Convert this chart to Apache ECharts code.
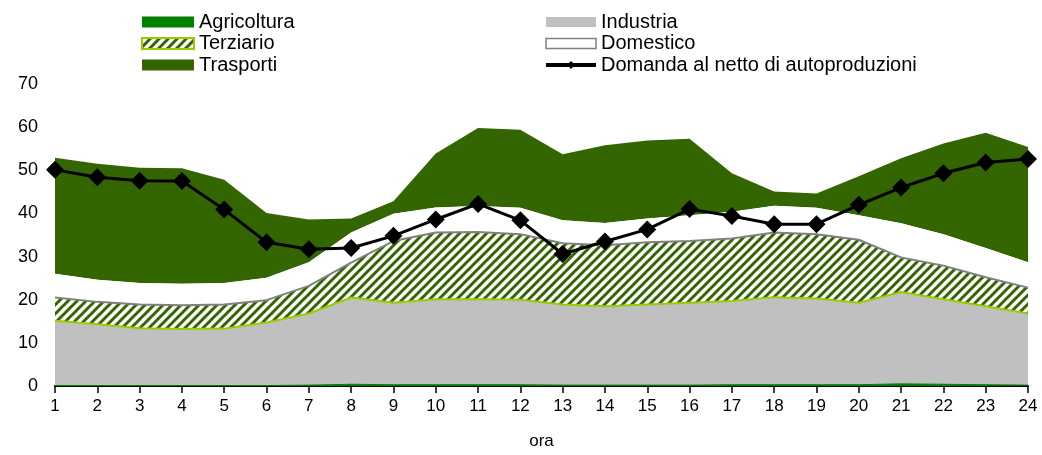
<!DOCTYPE html>
<html>
<head>
<meta charset="utf-8">
<script src="https://cdn.jsdelivr.net/npm/echarts@6/dist/echarts.min.js"></script>
<style>
html, body { margin: 0; padding: 0; background: #fff; }
#chart { width: 1042px; height: 455px; }
</style>
</head>
<body>
<div id="chart"></div>
<script>
var ore = ['1', '2', '3', '4', '5', '6', '7', '8', '9', '10', '11', '12',
	'13', '14', '15', '16', '17', '18', '19', '20', '21', '22', '23', '24'];
var agricoltura = [0.1, 0.1, 0.1, 0.1, 0.1, 0.1, 0.2, 0.4, 0.3, 0.3, 0.3, 0.3,
	0.2, 0.2, 0.2, 0.2, 0.3, 0.3, 0.3, 0.3, 0.5, 0.4, 0.3, 0.2];
var industria = [15.0, 14.2, 13.3, 13.1, 13.2, 14.6, 16.6, 20.1, 19.0, 19.8, 19.8, 19.7,
	18.7, 18.3, 18.7, 19.1, 19.4, 20.3, 20.0, 19.0, 21.3, 19.7, 18.2, 16.6];
var terziario = [5.4, 5.2, 5.5, 5.5, 5.6, 5.2, 6.4, 8.1, 14.3, 15.5, 15.6, 15.2,
	14.2, 14.1, 14.4, 14.3, 14.5, 15.0, 14.9, 14.6, 8.0, 7.8, 6.7, 6.0];
var domestico = [5.5, 5.1, 5.0, 5.0, 5.0, 5.2, 5.5, 7.0, 6.3, 5.8, 6.0, 6.1,
	5.3, 5.2, 5.5, 6.0, 6.2, 6.2, 6.1, 5.7, 7.9, 7.3, 6.8, 5.9];
var trasporti = [26.9, 26.9, 26.7, 26.8, 23.9, 15.0, 9.9, 3.2, 2.9, 12.5, 18.1, 18.1,
	15.3, 18.0, 18.1, 17.7, 8.9, 3.3, 3.3, 9.0, 15.1, 21.0, 26.7, 26.7];
var domanda = [50.1, 48.4, 47.6, 47.5, 40.9, 33.3, 31.7, 32.0, 34.8, 38.6, 42.2, 38.4,
	30.6, 33.5, 36.3, 41.0, 39.4, 37.5, 37.5, 42.0, 46.0, 49.3, 51.8, 52.6];

// tratteggio del terziario
function hatch() {
	var c = document.createElement('canvas');
	c.width = 9;
	c.height = 9;
	var ctx = c.getContext('2d');
	ctx.fillStyle = '#ffffff';
	ctx.fillRect(0, 0, 9, 9);
	ctx.strokeStyle = '#336600';
	ctx.lineWidth = 3;
	ctx.beginPath();
	ctx.moveTo(-2, 11); ctx.lineTo(11, -2);
	ctx.moveTo(-11, 11); ctx.lineTo(2, -2);
	ctx.moveTo(7, 11); ctx.lineTo(20, -2);
	ctx.stroke();
	return c;
}
var hatchFill = { image: hatch(), repeat: 'repeat' };

var font = 'Liberation Sans, Arial, sans-serif';

function area(name, data, fill, lineColor, lineWidth, z) {
	return {
		name: name,
		type: 'line',
		stack: 'tot',
		data: data,
		symbol: 'none',
		z: z,
		lineStyle: { color: lineColor, width: lineWidth },
		itemStyle: { color: fill },
		areaStyle: { color: fill, opacity: 1 }
	};
}

var legendText = { fontSize: 20, color: '#000', lineHeight: 20, fontFamily: font };

var chart = echarts.init(document.getElementById('chart'));
var option = {
	animation: false,
	textStyle: { fontFamily: font },
	legend: [{
		left: 141, top: 12, orient: 'vertical', padding: 0,
		itemWidth: 52, itemHeight: 11, itemGap: 1.5,
		textStyle: legendText,
		data: [
			{ name: 'Agricoltura', icon: 'rect' },
			{ name: 'Terziario', icon: 'rect', itemStyle: { borderColor: '#99cc00', borderWidth: 2 } },
			{ name: 'Trasporti', icon: 'rect' }
		]
	}, {
		left: 544, top: 12, orient: 'vertical', padding: 0,
		itemWidth: 50, itemHeight: 10, itemGap: 1.5,
		textStyle: legendText,
		data: [
			{ name: 'Industria', icon: 'rect' },
			{ name: 'Domestico', icon: 'rect', itemStyle: { color: '#fff', borderColor: '#808080', borderWidth: 1.5 } },
			{ name: 'Domanda al netto di autoproduzioni', lineStyle: { width: 4 } }
		]
	}],
	grid: { left: 55, right: 14, top: 84, bottom: 65 },
	xAxis: {
		type: 'category',
		data: ore,
		boundaryGap: false,
		name: 'ora',
		nameLocation: 'middle',
		nameGap: 47,
		nameTextStyle: { fontSize: 17, color: '#000' },
		axisLine: { lineStyle: { color: '#000', width: 2 } },
		axisTick: { alignWithLabel: true, length: 7, lineStyle: { color: '#000', width: 1.5 } },
		axisLabel: { fontSize: 17, color: '#000', margin: 12 }
	},
	yAxis: {
		type: 'value',
		min: 0,
		max: 70,
		interval: 10,
		axisLine: { show: false },
		axisTick: { show: false },
		splitLine: { show: false },
		axisLabel: { fontSize: 18, color: '#000', margin: 17 }
	},
	series: [
		area('Agricoltura', agricoltura, '#008000', '#008000', 1, 7),
		area('Industria', industria, '#c0c0c0', '#99cc00', 2, 6),
		area('Terziario', terziario, hatchFill, '#808080', 2, 5),
		area('Domestico', domestico, '#ffffff', '#ffffff', 0, 4),
		area('Trasporti', trasporti, '#336600', '#336600', 0, 3),
		{
			name: 'Domanda al netto di autoproduzioni',
			type: 'line',
			data: domanda,
			z: 10,
			symbol: 'diamond',
			symbolSize: 18,
			lineStyle: { color: '#000', width: 3 },
			itemStyle: { color: '#000' }
		}
	]
};
chart.setOption(option);
</script>
</body>
</html>
